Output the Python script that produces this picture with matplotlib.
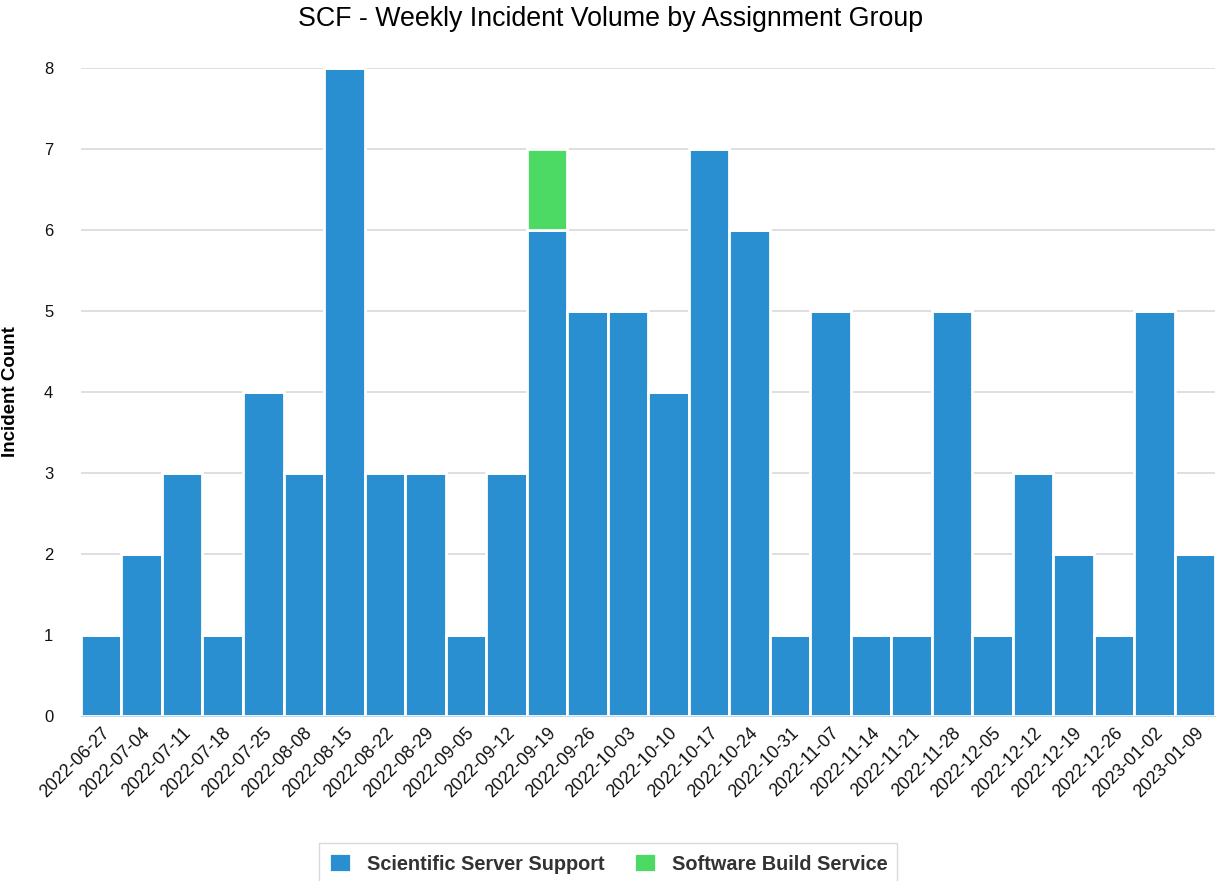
import numpy as np
import matplotlib.pyplot as plt

plt.rcParams['font.family'] = ['Liberation Sans', 'DejaVu Sans']

weeks = ['2022-06-27', '2022-07-04', '2022-07-11', '2022-07-18', '2022-07-25',
         '2022-08-08', '2022-08-15', '2022-08-22', '2022-08-29', '2022-09-05',
         '2022-09-12', '2022-09-19', '2022-09-26', '2022-10-03', '2022-10-10',
         '2022-10-17', '2022-10-24', '2022-10-31', '2022-11-07', '2022-11-14',
         '2022-11-21', '2022-11-28', '2022-12-05', '2022-12-12', '2022-12-19',
         '2022-12-26', '2023-01-02', '2023-01-09']
server_support = [1, 2, 3, 1, 4, 3, 8, 3, 3, 1, 3, 6, 5, 5, 4, 7, 6, 1, 5, 1,
                  1, 5, 1, 3, 2, 1, 5, 2]
build_service = [0, 0, 0, 0, 0, 0, 0, 0, 0, 0, 0, 1, 0, 0, 0, 0, 0, 0, 0, 0,
                 0, 0, 0, 0, 0, 0, 0, 0]

blue = '#2a8fd1'
green = '#4cd964'

fig = plt.figure(figsize=(12.21, 8.81), dpi=100)
ax = fig.add_axes([0.0663, 0.1873, 0.929, 0.7355])

x = np.arange(len(weeks))
ax.bar(x, server_support, width=1.0, color=blue, edgecolor='white', linewidth=2,
       label='Scientific Server Support', zorder=3)
ax.bar(x, build_service, width=1.0, bottom=server_support, color=green,
       edgecolor='white', linewidth=2, label='Software Build Service', zorder=3)

ax.set_xlim(-0.5, len(weeks) - 0.5)
ax.set_ylim(0, 8)
ax.set_yticks(range(0, 9))
ax.grid(axis='y', color='#d9d9d9', linewidth=1.2, zorder=0)
for s in ['top', 'right', 'left']:
    ax.spines[s].set_visible(False)
ax.spines['bottom'].set_color('#ccd6eb')
ax.tick_params(axis='both', length=0, colors='#111111')
ax.tick_params(axis='y', pad=20, labelsize=12)
ax.tick_params(axis='x', pad=6, labelsize=12.8)
ax.set_xticks(x)
ax.set_xticklabels(weeks, rotation=45, ha='right', rotation_mode='anchor')

ax.set_ylabel('Incident Count', fontsize=13.5, fontweight='bold', labelpad=18)
fig.suptitle('SCF - Weekly Incident Volume by Assignment Group', fontsize=19.3,
             y=0.993)

leg = fig.legend(loc='lower center', bbox_to_anchor=(0.498, -0.012), ncol=2,
                 frameon=True, fancybox=False, edgecolor='#d0d0d0',
                 handlelength=1.1, handleheight=1.1, columnspacing=1.5,
                 handletextpad=0.8, prop={'weight': 'bold', 'size': 14.3},
                 borderpad=0.5, borderaxespad=0.4)
for t in leg.get_texts():
    t.set_color('#333333')

fig.savefig('out.png', dpi=100)
